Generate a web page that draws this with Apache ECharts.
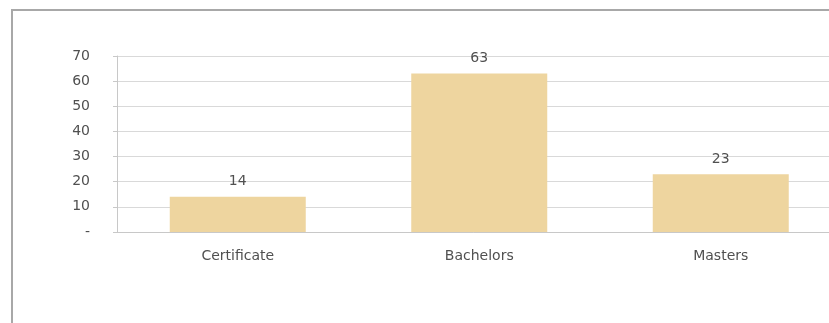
<!DOCTYPE html>
<html>
<head>
<meta charset="utf-8">
<script src="https://cdn.jsdelivr.net/npm/echarts@6/dist/echarts.min.js"></script>
<style>
html,body{margin:0;padding:0;background:#fff;overflow:hidden;}
#wrap{position:relative;width:829px;height:323px;}
#c{width:829px;height:323px;}
#frame{position:absolute;left:11px;top:9px;right:0;bottom:0;border-left:2px solid #a8a8a8;border-top:2px solid #a8a8a8;pointer-events:none;}
</style>
</head>
<body>
<div id="wrap"><div id="c"></div><div id="frame"></div></div>
<script>
const categories = ['Certificate', 'Bachelors', 'Masters'];
const values = [14, 63, 23];
const yTicks = [0, 10, 20, 30, 40, 50, 60, 70];

const chart = echarts.init(document.getElementById('c'), null, {renderer: 'canvas'});
const font = 'DejaVu Sans';
chart.setOption({
  animation: false,
  backgroundColor: '#ffffff',
  grid: {left: 117, width: 724.5, top: 56, bottom: 91, containLabel: false, outerBoundsMode: 'none'},
  xAxis: {
    type: 'category',
    data: categories,
    axisLine: {show: true, lineStyle: {color: '#c8c8c8', width: 1}},
    axisTick: {show: false},
    axisLabel: {color: '#505050', fontFamily: font, fontSize: 14, margin: 17}
  },
  yAxis: {
    type: 'value',
    min: yTicks[0],
    max: yTicks[yTicks.length - 1],
    interval: 10,
    axisLine: {show: true, lineStyle: {color: '#c8c8c8', width: 1}},
    axisTick: {show: true, length: 4, lineStyle: {color: '#c8c8c8'}},
    splitLine: {show: true, lineStyle: {color: '#d9d9d9', width: 1}},
    axisLabel: {
      color: '#505050', fontFamily: font, fontSize: 14, margin: 27,
      formatter: v => v === 0 ? '-' : String(v)
    }
  },
  series: [{
    type: 'bar',
    data: values,
    barWidth: 136,
    itemStyle: {color: '#EED59F'},
    label: {
      show: true, position: 'top', distance: 8,
      color: '#505050', fontFamily: font, fontSize: 14
    }
  }]
});
</script>
</body>
</html>
